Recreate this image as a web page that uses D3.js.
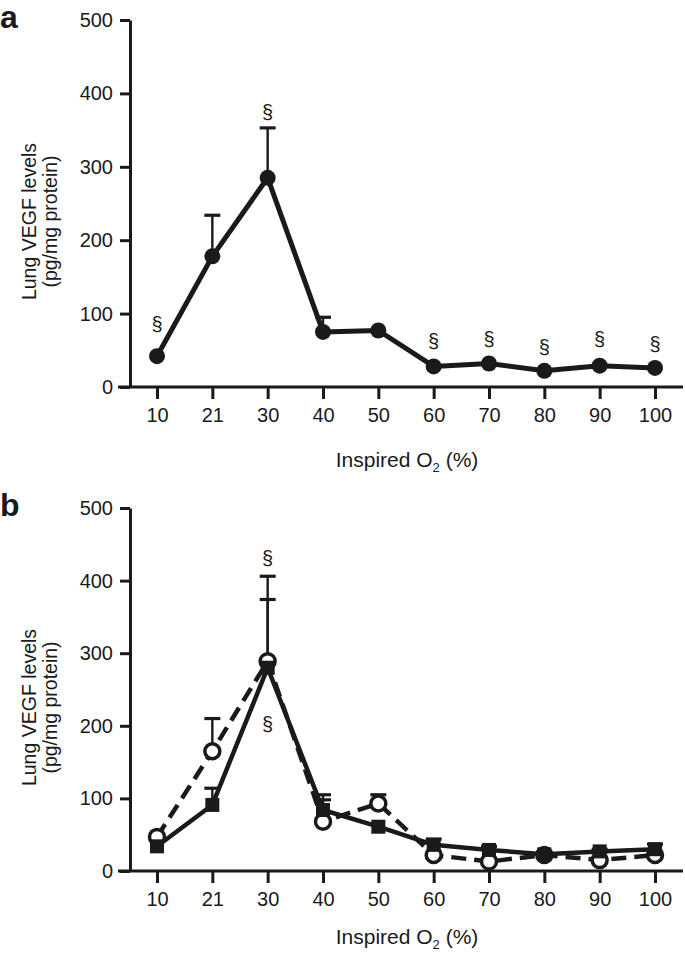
<!DOCTYPE html>
<html>
<head>
<meta charset="utf-8">
<script src="https://cdn.jsdelivr.net/npm/d3@7/dist/d3.min.js"></script>
<style>
  html, body { margin: 0; padding: 0; background: #fff; }
  svg { display: block; }
  text { font-family: "Liberation Sans", Arial, Helvetica, sans-serif; fill: #1a1a1a; }
</style>
</head>
<body>
<svg id="chart" width="685" height="954"></svg>
<script>
// ---- data ----
const categories = ["10", "21", "30", "40", "50", "60", "70", "80", "90", "100"];
const yTicks = [0, 100, 200, 300, 400, 500];

// Panel a
const aMean = [42, 178, 285, 75, 77, 28, 32, 22, 29, 26];
const aErr  = [0, 56, 68, 20, 0, 0, 0, 0, 0, 0];
const aSig  = [87, null, 376, null, null, 64, 67, 56, 67, 60];   // § positions (data units)

// Panel b
const bCircleMean = [47, 165, 289, 68, 93, 22, 13, 22, 15, 22];
const bCircleErr  = [0, 45, 117, 37, 12, 0, 0, 0, 0, 0];
const bSquareMean = [34, 91, 280, 84, 61, 36, 29, 23, 27, 30];
const bSquareErr  = [0, 23, 94, 14, 0, 8, 5, 3, 3, 7];
const bSig = [{cat: "30", v: 433}, {cat: "30", v: 204}];

const svg = d3.select("#chart");
const ink = "#1a1a1a";

function panel(opts) {
  const g = svg.append("g");
  const x = d3.scalePoint().domain(categories).range([157, 655]);
  const y = d3.scaleLinear().domain([0, 500]).range([opts.y0, opts.y500]);

  // y axis
  const ya = g.append("g").attr("transform", "translate(130,0)")
    .call(d3.axisLeft(y).tickValues(yTicks).tickSize(10).tickSizeOuter(0).tickPadding(7));
  ya.attr("font-family", null).attr("font-size", null);
  ya.select(".domain").attr("stroke", ink).attr("stroke-width", 3);
  ya.selectAll(".tick line").attr("stroke", ink).attr("stroke-width", 3);
  ya.selectAll(".tick text").attr("font-size", 20).attr("fill", ink);

  // x axis
  const xa = g.append("g").attr("transform", `translate(0,${opts.y0})`)
    .call(d3.axisBottom(x).tickSize(12).tickSizeOuter(0).tickPadding(9));
  xa.attr("font-family", null).attr("font-size", null);
  xa.select(".domain").remove();
  xa.append("line").attr("x1", 118).attr("x2", 683).attr("y1", 0).attr("y2", 0)
    .attr("stroke", ink).attr("stroke-width", 3);
  xa.selectAll(".tick line").attr("stroke", ink).attr("stroke-width", 3);
  xa.selectAll(".tick text").attr("font-size", 20).attr("fill", ink);

  // x title
  const xt = g.append("text").attr("x", 407).attr("y", opts.y0 + opts.xTitle)
    .attr("text-anchor", "middle").attr("font-size", 21);
  xt.append("tspan").text("Inspired O");
  xt.append("tspan").text("2").attr("font-size", 13).attr("dy", 5);
  xt.append("tspan").text(" (%)").attr("dy", -5);

  // y title
  const cy = (y(0) + y(500)) / 2 + 18;
  g.append("text").attr("transform", `translate(36,${cy}) rotate(-90)`)
    .attr("text-anchor", "middle").attr("font-size", 19.5).text("Lung VEGF levels");
  g.append("text").attr("transform", `translate(57,${cy}) rotate(-90)`)
    .attr("text-anchor", "middle").attr("font-size", 19.5).text("(pg/mg protein)");

  // panel letter
  g.append("text").attr("x", 0).attr("y", opts.y500 + 8).attr("font-size", 32)
    .attr("font-weight", "bold").text(opts.letter);

  return {g, x, y};
}

function errorBars(g, x, y, mean, err) {
  const d = categories.map((c, i) => ({c, m: mean[i], e: err[i]})).filter(d => d.e > 0);
  g.selectAll(null).data(d).enter().append("line")
    .attr("x1", d => x(d.c)).attr("x2", d => x(d.c))
    .attr("y1", d => y(d.m)).attr("y2", d => y(d.m + d.e))
    .attr("stroke", ink).attr("stroke-width", 2.4);
  g.selectAll(null).data(d).enter().append("line")
    .attr("x1", d => x(d.c) - 8).attr("x2", d => x(d.c) + 8)
    .attr("y1", d => y(d.m + d.e)).attr("y2", d => y(d.m + d.e))
    .attr("stroke", ink).attr("stroke-width", 3.2);
}

// ---- Panel a ----
{
  const {g, x, y} = panel({y0: 387, y500: 20, letter: "a", xTitle: 80});
  errorBars(g, x, y, aMean, aErr);
  const line = d3.line().x((d, i) => x(categories[i])).y(d => y(d));
  g.append("path").attr("d", line(aMean)).attr("fill", "none")
    .attr("stroke", ink).attr("stroke-width", 5).attr("stroke-linejoin", "round");
  g.selectAll(null).data(aMean).enter().append("circle")
    .attr("cx", (d, i) => x(categories[i])).attr("cy", d => y(d)).attr("r", 8).attr("fill", ink);
  g.selectAll(null).data(categories.map((c, i) => ({c, v: aSig[i]})).filter(d => d.v !== null))
    .enter().append("text").attr("x", d => x(d.c)).attr("y", d => y(d.v) + 8)
    .attr("text-anchor", "middle").attr("font-size", 20).text("§");
}

// ---- Panel b ----
{
  const {g, x, y} = panel({y0: 871, y500: 508, letter: "b", xTitle: 73});
  errorBars(g, x, y, bCircleMean, bCircleErr);
  errorBars(g, x, y, bSquareMean, bSquareErr);
  const line = d3.line().x((d, i) => x(categories[i])).y(d => y(d));
  g.append("path").attr("d", line(bCircleMean)).attr("fill", "none")
    .attr("stroke", ink).attr("stroke-width", 4.5).attr("stroke-dasharray", "15,8");
  g.append("path").attr("d", line(bSquareMean)).attr("fill", "none")
    .attr("stroke", ink).attr("stroke-width", 4.5).attr("stroke-linejoin", "round");
  g.selectAll(null).data(bCircleMean).enter().append("circle")
    .attr("cx", (d, i) => x(categories[i])).attr("cy", d => y(d)).attr("r", 7.5)
    .attr("fill", "#fff").attr("stroke", ink).attr("stroke-width", 3.5);
  const s = 14;
  g.selectAll(null).data(bSquareMean).enter().append("rect")
    .attr("x", (d, i) => x(categories[i]) - s / 2).attr("y", d => y(d) - s / 2)
    .attr("width", s).attr("height", s).attr("fill", ink);
  g.selectAll(null).data(bSig).enter().append("text")
    .attr("x", d => x(d.cat)).attr("y", d => y(d.v) + 8)
    .attr("text-anchor", "middle").attr("font-size", 20).text("§");
}
</script>
</body>
</html>
